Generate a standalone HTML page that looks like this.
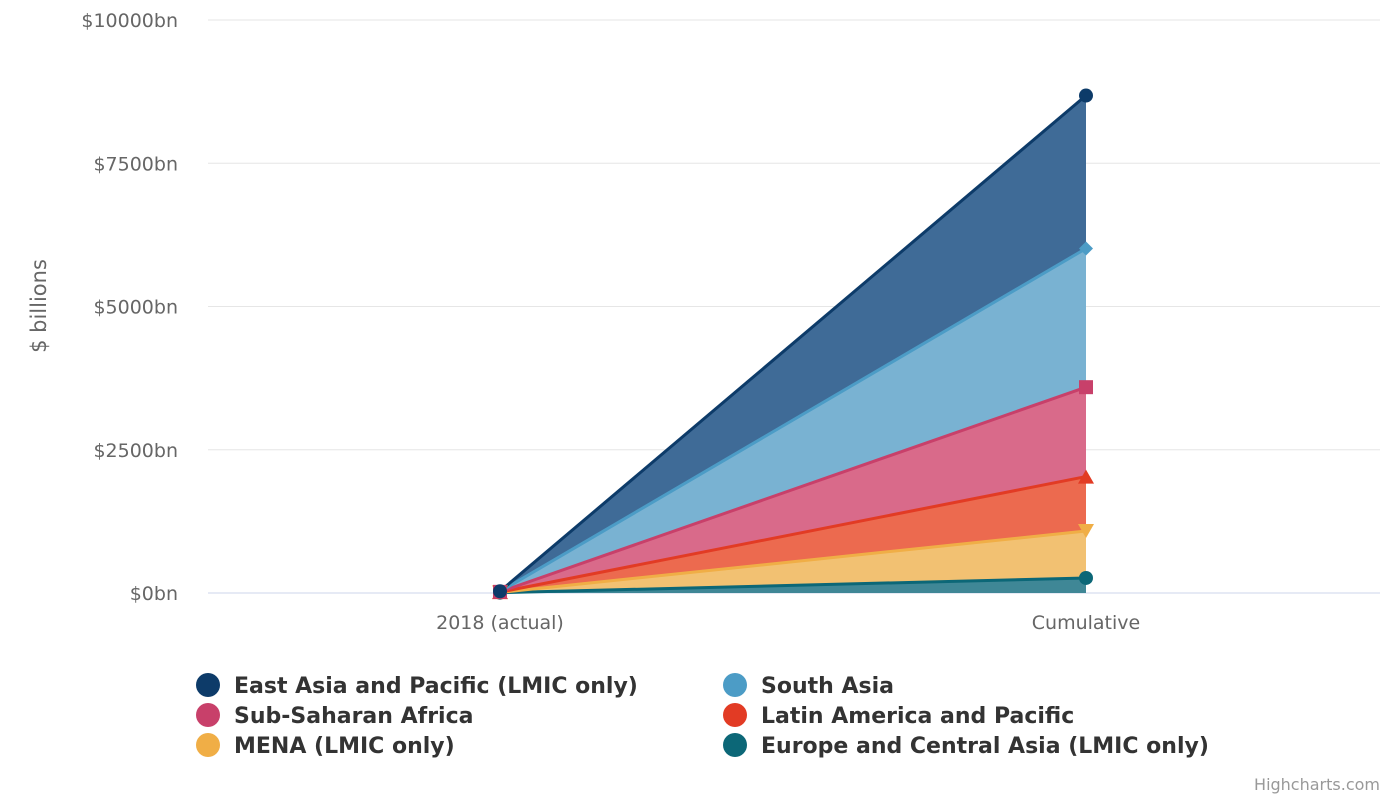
<!DOCTYPE html>
<html><head><meta charset="utf-8"><style>
body{margin:0;background:#fff;font-family:"DejaVu Sans","Liberation Sans",sans-serif;}
svg text{font-family:"DejaVu Sans","Liberation Sans",sans-serif;}
</style></head><body>
<svg id="c" width="1400" height="800"></svg>
<script>
const categories=["2018 (actual)","Cumulative"];
const seriesNames=["Europe and Central Asia (LMIC only)","MENA (LMIC only)","Latin America and Pacific","Sub-Saharan Africa","South Asia","East Asia and Pacific (LMIC only)"];
const europe=[5,262];
const mena=[5,820];
const latam=[5,950];
const ssa=[5,1560];
const southAsia=[5,2420];
const eastAsia=[5,2670];
const yTicks=[0,2500,5000,7500,10000];
const lineColors=["#0c6777","#f0ae46","#e23b24","#c8406a","#4c9cc6","#0d3b69"];
const fillColors=["#3f8796","#f2c172","#ec6a4f","#d96a8a","#79b2d2","#3f6b97"];
const S="http://www.w3.org/2000/svg";
const svg=document.getElementById('c');
function el(t,a,p){const e=document.createElementNS(S,t);for(const k in a)e.setAttribute(k,a[k]);(p||svg).appendChild(e);return e;}
const y=v=>593-v*0.0573;
const x=i=>500+i*586;
yTicks.forEach(t=>{
 const g=el('line',{x1:208,x2:1380,y1:y(t),y2:y(t),stroke:t?'#e6e6e6':'#ccd6eb','stroke-width':1});
 
 
 const l=el('text',{x:178,y:y(t)+7,'text-anchor':'end','font-size':19,fill:'#666'});
 l.textContent='$'+t+'bn';
 
 
});
const yt=el('text',{x:46,y:306,'text-anchor':'middle','font-size':21,fill:'#666',transform:'rotate(-90 46 306)'});
yt.textContent='$ billions';


categories.forEach((c,i)=>{
 const t=el('text',{x:x(i),y:629,'text-anchor':'middle','font-size':19,fill:'#666'});
 t.textContent=c;
 
 
});
const data=[europe,mena,latam,ssa,southAsia,eastAsia];
let base=[0,0];
const tops=[];
data.forEach((d,s)=>{
 const top=d.map((v,i)=>base[i]+v);
 tops.push(top);
 const pts=top.map((v,i)=>x(i)+','+y(v)).join(' ')+' '+[1,0].map(i=>x(i)+','+y(base[i])).join(' ');
 const a=el('polygon',{points:pts,fill:fillColors[s]});
 
 
 base=top;
});
tops.forEach((top,s)=>{
 const ln=el('polyline',{points:top.map((v,i)=>x(i)+','+y(v)).join(' '),fill:'none',stroke:lineColors[s],'stroke-width':3});
 
 
});
tops.forEach((top,s)=>{
 top.forEach((v,i)=>{
  const cx=x(i),cy=y(v);let m;
  if(s===0||s===5)m=el('circle',{cx,cy,r:7,fill:lineColors[s]});
  else if(s===1)m=el('polygon',{points:`${cx-8},${cy-7} ${cx+8},${cy-7} ${cx},${cy+7}`,fill:lineColors[s]});
  else if(s===2)m=el('polygon',{points:`${cx-8},${cy+7} ${cx+8},${cy+7} ${cx},${cy-7}`,fill:lineColors[s]});
  else if(s===3)m=el('rect',{x:cx-7,y:cy-7,width:14,height:14,fill:lineColors[s]});
  else m=el('polygon',{points:`${cx},${cy-7} ${cx+7},${cy} ${cx},${cy+7} ${cx-7},${cy}`,fill:lineColors[s]});
  
  
 });
});
const legendOrder=[5,4,3,2,1,0];
legendOrder.forEach((s,k)=>{
 const col=k%2,row=Math.floor(k/2);
 const lx=208+col*527,ly=685+row*30;
 const c=el('circle',{cx:lx,cy:ly,r:12,fill:lineColors[s]});
 
 
 const t=el('text',{x:lx+26,y:ly+8,'font-size':22,'font-weight':'bold',fill:'#333'});
 t.textContent=seriesNames[s];
 
 
});
const cr=el('text',{x:1380,y:790,'text-anchor':'end','font-size':16,fill:'#999'});
cr.textContent='Highcharts.com';


</script>
</body></html>
